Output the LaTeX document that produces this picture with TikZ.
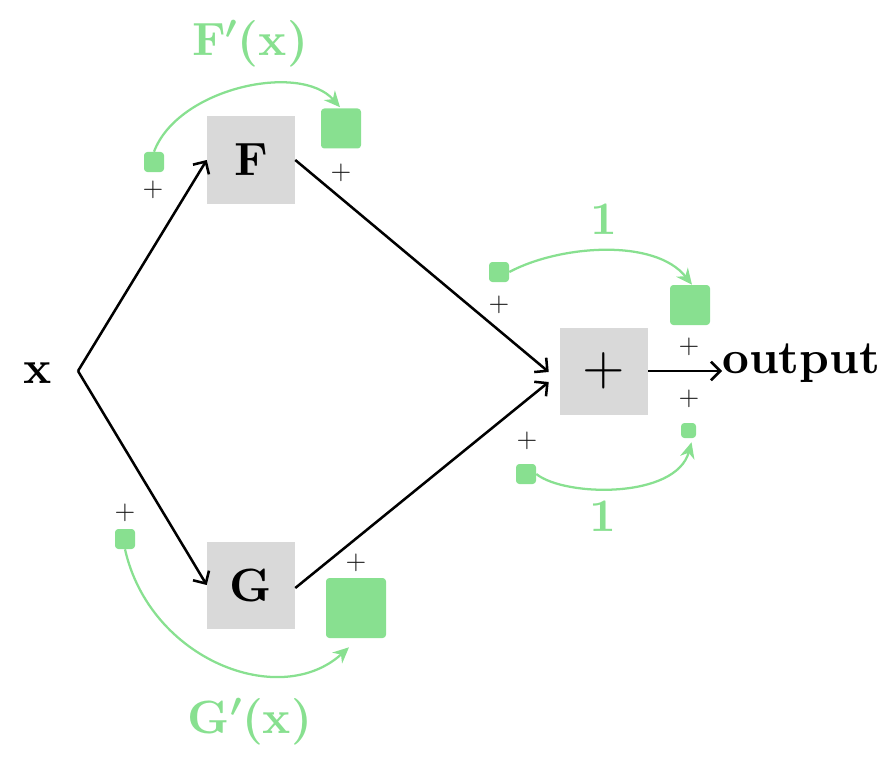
\documentclass[tikz,border=0pt]{standalone}
\usepackage{fix-cm}
\usetikzlibrary{arrows.meta,calc}
\definecolor{gr}{HTML}{88E090}
\definecolor{boxg}{HTML}{D9D9D9}
\font\bigbf="[lmroman10-bold]:+tlig;" at 35pt
\font\plsmall="[lmroman10-regular]" at 20pt
\font\plbig="[lmroman10-regular]" at 41pt
\tikzset{
 gbox/.style={fill=boxg, minimum width=66pt, minimum height=65.25pt, inner sep=0pt, font=\bigbf},
 sq/.style={fill=gr, rounded corners=2.5pt, inner sep=0pt, minimum size=#1},
 pl/.style={text=black!90, font=\plsmall, inner sep=0pt},
 glab/.style={text=gr, font=\bigbf},
 blab/.style={font=\bigbf},
 blk/.style={line width=1.9pt, -{Straight Barb[length=7pt,width=14pt]}},
 grn/.style={draw=gr, line width=1.7pt, -{Stealth[length=12pt,width=11pt]}},
}
\begin{document}
\begin{tikzpicture}[x=0.75pt,y=-0.75pt]
\useasboundingbox (0,0) rectangle (895,770);
% main boxes
\node[gbox] (F) at (251,160) {F};
\node[gbox] (G) at (251,585) {G};
\node[gbox, font=\plbig] (P) at (604,371) {+};
\node[blab] (xl) at (38,373) {x};
\node[blab, anchor=west, inner sep=0pt] (out) at (722,363) {output};
\coordinate (br) at (78,371);
% black connectors
\draw[blk] (br) -- (F.west);
\draw[blk] (br) -- (G.west);
\draw[blk] (F.east) -- ($(P.west)+(-11,1)$);
\draw[blk] ($(G.east)+(0,3)$) -- ($(P.west)+(-11,11)$);
\draw[blk] (P.east) -- (P.east -| out.west);
% green squares
\node[sq=15pt] (fs) at (154,162) {};
\node[sq=30pt] (fb) at (341,128.5) {};
\node[sq=15pt] (ts) at (499,272) {};
\node[sq=30pt] (tb) at (690,305) {};
\node[sq=15pt] (bs) at (526,474) {};
\node[sq=11.25pt] (bt) at (688.5,430.5) {};
\node[sq=15pt] (gs) at (125,539) {};
\node[sq=45pt] (gb) at (356,608) {};
% plus labels
\node[pl] (p1) at (153,190) {+};
\node[pl] (p2) at (341,173) {+};
\node[pl] (p3) at (499,305) {+};
\node[pl] (p4) at (689,347) {+};
\node[pl] (p5) at (689,399) {+};
\node[pl] (p6) at (527,441) {+};
\node[pl] (p7) at (125,513) {+};
\node[pl] (p8) at (356,563) {+};
% green labels
\node[glab] (lf) at (250,44) {F{\fontsize{35}{40}\selectfont\boldmath$'$}(x)};
\node[glab] (lg) at (250,722) {G{\fontsize{35}{40}\selectfont\boldmath$'$}(x)};
\node[glab] (l1) at (604,219) {1};
\node[glab] (l2) at (603,516) {1};
% green arcs
\draw[grn] (fs.north) .. controls (178,88) and (300,62) .. ($(fb.north)+(-1,-1)$);
\draw[grn] (ts.east) .. controls (560,245) and (655,238) .. ($(tb.north)+(2,0)$);
\draw[grn] (bs.east) .. controls (565,497) and (676,499) .. ($(bt.south)+(3,4)$);
\draw[grn] (gs.south) .. controls (150,660) and (280,710) .. ($(gb.south)+(-7,9)$);
\end{tikzpicture}
\end{document}
